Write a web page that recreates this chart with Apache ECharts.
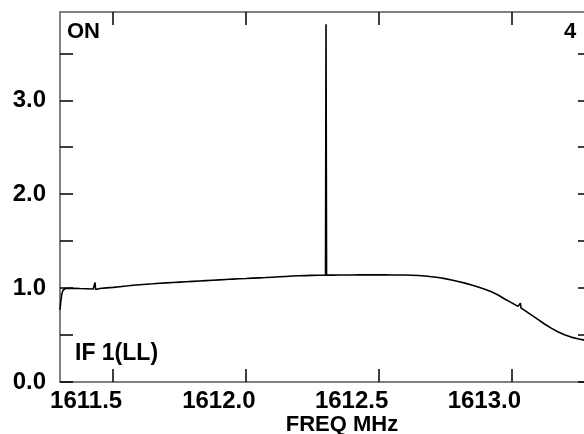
<!DOCTYPE html>
<html>
<head>
<meta charset="utf-8">
<script src="https://cdn.jsdelivr.net/npm/echarts@6/dist/echarts.min.js"></script>
<style>
html,body{margin:0;padding:0;background:#fff;overflow:hidden;width:584px;height:434px;}
#chart{width:600px;height:434px;}
</style>
</head>
<body>
<div id="chart"></div>
<script>
// Frequency (MHz) samples
var freq = [
  1611.300,1611.303,1611.307,1611.312,1611.320,1611.325,1611.350,1611.375,1611.400,1611.425,
  1611.430,1611.432,1611.434,1611.436,1611.450,1611.475,1611.500,1611.525,1611.550,1611.575,
  1611.600,1611.625,1611.650,1611.675,1611.700,1611.725,1611.750,1611.775,1611.800,1611.825,
  1611.850,1611.875,1611.900,1611.925,1611.950,1611.975,1612.000,1612.025,1612.050,1612.075,
  1612.100,1612.125,1612.150,1612.175,1612.200,1612.225,1612.250,1612.275,1612.300,1612.302,
  1612.304,1612.325,1612.350,1612.375,1612.400,1612.425,1612.450,1612.475,1612.500,1612.525,
  1612.550,1612.575,1612.600,1612.625,1612.650,1612.675,1612.700,1612.725,1612.750,1612.775,
  1612.800,1612.825,1612.850,1612.875,1612.900,1612.925,1612.950,1612.975,1613.000,1613.025,
  1613.032,1613.034,1613.036,1613.050,1613.075,1613.100,1613.125,1613.150,1613.175,1613.200,
  1613.225,1613.250,1613.275,1613.300
];
// Flux values
var flux = [
  0.77,0.86,0.94,0.98,0.995,1.000,0.998,0.995,0.993,0.990,
  0.992,1.060,0.985,0.992,0.996,1.002,1.008,1.015,1.022,1.030,
  1.036,1.041,1.046,1.052,1.056,1.060,1.064,1.068,1.072,1.076,
  1.080,1.084,1.088,1.092,1.096,1.099,1.102,1.106,1.109,1.112,
  1.116,1.120,1.124,1.128,1.131,1.133,1.135,1.136,1.137,3.810,
  1.138,1.138,1.139,1.140,1.140,1.141,1.141,1.141,1.141,1.141,
  1.140,1.140,1.139,1.137,1.134,1.129,1.121,1.112,1.101,1.087,
  1.071,1.053,1.033,1.011,0.988,0.961,0.926,0.884,0.845,0.805,
  0.794,0.840,0.790,0.763,0.715,0.666,0.618,0.574,0.535,0.503,
  0.478,0.460,0.446,0.435
];
var xTicks = [1611.5, 1612.0, 1612.5, 1613.0];
var yTicks = [0, 0.5, 1.0, 1.5, 2.0, 2.5, 3.0, 3.5];
var yLabels = [0, 1.0, 2.0, 3.0];

var FONT = 'Liberation Sans, Arial, Helvetica, sans-serif';
var data = freq.map(function (f, i) { return [f, flux[i]]; });

var axisLineStyle = { color: '#808080', width: 2 };
var tickStyle = { color: '#000', width: 1.5 };

var chart = echarts.init(document.getElementById('chart'), null, { renderer: 'canvas', width: 600, height: 434 });
chart.setOption({
  animation: false,
  backgroundColor: '#fff',
  grid: { left: 60, top: 12, width: 531, height: 370, containLabel: false },
  xAxis: [
    {
      type: 'value', position: 'bottom', min: 1611.3, max: 1613.3,
      axisLine: { show: true, onZero: false, lineStyle: axisLineStyle },
      axisTick: { show: true, inside: true, length: 13, lineStyle: tickStyle, customValues: xTicks },
      axisLabel: {
        show: true, customValues: xTicks, margin: 7,
        formatter: function (v) { return v.toFixed(1); },
        color: '#000', fontFamily: FONT, fontWeight: 'bold', fontSize: 24,
        align: 'center', padding: [0, 54, 0, 0]
      },
      splitLine: { show: false }
    },
    {
      type: 'value', position: 'top', min: 1611.3, max: 1613.3,
      axisLine: { show: true, onZero: false, lineStyle: axisLineStyle },
      axisTick: { show: true, inside: true, length: 13, lineStyle: tickStyle, customValues: xTicks },
      axisLabel: { show: false },
      splitLine: { show: false }
    }
  ],
  yAxis: [
    {
      type: 'value', position: 'left', min: 0, max: 3.94,
      axisLine: { show: true, onZero: false, lineStyle: axisLineStyle },
      axisTick: { show: true, inside: true, length: 13, lineStyle: tickStyle, customValues: yTicks },
      axisLabel: {
        show: true, customValues: yLabels, margin: 14,
        formatter: function (v) { return v.toFixed(1); },
        color: '#000', fontFamily: FONT, fontWeight: 'bold', fontSize: 24
      },
      splitLine: { show: false }
    },
    {
      type: 'value', position: 'right', min: 0, max: 3.94,
      axisLine: { show: true, onZero: false, lineStyle: axisLineStyle },
      axisTick: { show: true, inside: true, length: 13, lineStyle: tickStyle, customValues: yTicks },
      axisLabel: { show: false },
      splitLine: { show: false }
    }
  ],
  series: [{
    type: 'line', xAxisIndex: 0, yAxisIndex: 0,
    data: data, showSymbol: false, symbol: 'none',
    lineStyle: { color: '#000', width: 1.6 },
    clip: true
  }],
  graphic: [
    { type: 'text', left: 67, top: 21, style: { text: 'ON', fill: '#000', font: 'bold 22px ' + FONT } },
    { type: 'text', left: 564, top: 21, style: { text: '4', fill: '#000', font: 'bold 22px ' + FONT } },
    { type: 'text', left: 75, top: 342, style: { text: 'IF 1(LL)', fill: '#000', font: 'bold 23px ' + FONT } },
    { type: 'text', x: 342, y: 425, style: { text: 'FREQ MHz', fill: '#000', font: 'bold 22px ' + FONT, textAlign: 'center', textVerticalAlign: 'middle' } }
  ]
});
</script>
</body>
</html>
